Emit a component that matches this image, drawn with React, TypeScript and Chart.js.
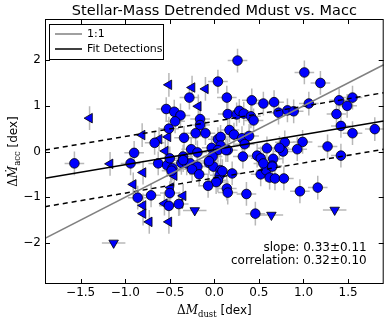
import React, { useEffect, useRef } from "react";
import { Chart, registerables } from "chart.js";
Chart.register(...registerables);

// Detections (blue circles)
const detX = [0.26, 1.01, 1.19, 0.04, -0.28, 0.14, -0.54, -0.45, -0.38, -0.44, -0.16, -0.16, -0.51, -0.34, -0.21, -0.1, -0.67, -0.9, 0.15, 0.25, 0.28, 0.33, 0.42, 0.55, 0.67, 0.41, 0.44, 0.72, 0.82, 0.89, 1.06, 1.4, 1.55, 1.49, 1.37, 1.42, 1.55, 1.8, 0.17, 0.22, 0.31, 0.39, 0.04, 0.07, 0.34, -0.03, 0.07, 0.04, 0.15, -0.26, -0.19, 0.79, 0.99, 0.77, 0.93, 0.73, 0.59, 1.27, 0.48, 0.52, 0.66, 1.42, 0.32, -0.02, -0.35, -1.57, -0.94, -0.63, -0.53, -0.47, -0.48, -0.37, -0.31, -0.27, -0.19, -0.25, -0.17, -0.06, -0.01, 0.07, 0.06, 0.04, 0.02, -0.07, 0.14, 0.15, 0.2, 0.36, 0.52, 0.58, 0.62, 0.65, 0.68, 0.78, 0.55, 0.65, 0.96, 1.16, 0.46, -0.86, -0.71, -0.5, -0.51, -0.4, -0.5, -0.35, -0.06, 0.09, 0.13];
const detY = [1.99, 1.73, 1.5, 1.53, 1.18, 1.18, 0.93, 0.87, 0.79, 0.66, 0.71, 0.58, 0.5, 0.3, 0.4, 0.4, 0.19, -0.03, 0.82, 0.81, 0.89, 0.83, 1.12, 1.05, 1.08, 0.77, 0.68, 0.85, 0.9, 0.88, 1.05, 1.12, 1.18, 1.0, 0.82, 0.56, 0.4, 0.49, 0.47, 0.37, 0.29, 0.34, 0.27, 0.32, 0.16, 0.08, 0.13, 0.03, 0.03, 0.05, -0.02, 0.2, 0.21, 0.0, 0.05, 0.08, 0.07, 0.11, -0.09, -0.15, -0.16, -0.09, -0.11, -0.11, -0.11, -0.26, -0.26, -0.26, -0.3, -0.37, -0.42, -0.25, -0.26, -0.26, -0.33, -0.39, -0.5, -0.25, -0.33, -0.41, -0.52, -0.63, -0.67, -0.75, -0.81, -0.9, -0.48, -0.93, -0.5, -0.41, -0.57, -0.31, -0.59, -0.59, -0.26, -0.33, -0.87, -0.79, -1.36, -1.01, -0.96, -0.91, -1.19, -1.15, -0.15, -0.19, -0.21, -0.43, 0.03];
// Upper limits in dust (left-pointing triangles)
const limDustX = [-1.4, -0.81, -0.51, -0.25, -0.1, -0.18, -0.52, -0.62, -0.55, -1.17, -0.8, -0.91, -0.35, -0.8, -0.8, -0.73, -0.56, -0.51, -0.39, -0.45, -0.49];
const limDustY = [0.73, 0.36, 1.46, 1.4, 1.37, 0.99, 0.32, 0.27, 0.01, -0.27, -0.46, -0.72, -0.97, -1.18, -1.36, -1.54, -1.14, -1.54, -1.14, -0.53, -0.79];
// Upper limits in accretion (down-pointing triangles)
const limAccX = [-1.13, -0.22, 0.64, 1.35];
const limAccY = [-2.0, -1.29, -1.39, -1.28];

const xErr = 0.11;
const yErr = 0.26;

const xTicks = [-1.5, -1.0, -0.5, 0.0, 0.5, 1.0, 1.5];
const xTickLabels = ["\u22121.5", "\u22121.0", "\u22120.5", "0.0", "0.5", "1.0", "1.5"];
const yTicks = [-2, -1, 0, 1, 2];
const yTickLabels = ["\u22122", "\u22121", "0", "1", "2"];

const xRange = [-1.9, 1.9];
const yRange = [-2.9, 2.9];

const fitSlope = 0.33;
const fitIntercept = 0.04;
const bandOffset = 0.62;

const titleText = "Stellar-Mass Detrended Mdust vs. Macc";
const statLines = ["slope: 0.33\u00b10.11", "correlation: 0.32\u00b10.10"];
const legendLabels = ["1:1", "Fit Detections"];

const SANS = "'DejaVu Sans', sans-serif";
const SERIF = "'DejaVu Serif', serif";

function linePts(slope: number, icpt: number) {
  return xRange.map((x) => ({ x, y: slope * x + icpt }));
}

const decorPlugin = {
  id: "decor",
  beforeDatasetsDraw(chart: any) {
    const ctx = chart.ctx;
    const xs = chart.scales.x, ys = chart.scales.y;
    const a = chart.chartArea;
    ctx.save();
    ctx.beginPath();
    ctx.rect(a.left, a.top, a.right - a.left, a.bottom - a.top);
    ctx.clip();
    ctx.strokeStyle = "#b8b8b8";
    ctx.lineWidth = 1.5;
    const seg = (x1: number, y1: number, x2: number, y2: number) => {
      ctx.beginPath();
      ctx.moveTo(xs.getPixelForValue(x1), ys.getPixelForValue(y1));
      ctx.lineTo(xs.getPixelForValue(x2), ys.getPixelForValue(y2));
      ctx.stroke();
    };
    detX.forEach((x, i) => {
      const y = detY[i];
      seg(x - xErr, y, x + xErr, y);
      seg(x, y - yErr, x, y + yErr);
    });
    limDustX.forEach((x, i) => {
      const y = limDustY[i];
      seg(x, y - yErr, x, y + yErr);
    });
    limAccX.forEach((x, i) => {
      const y = limAccY[i];
      seg(x - xErr * 1.2, y, x + xErr * 1.2, y);
    });
    ctx.restore();
  },
  afterDraw(chart: any) {
    const ctx = chart.ctx;
    const xs = chart.scales.x, ys = chart.scales.y;
    const a = chart.chartArea;
    ctx.save();
    // frame
    ctx.strokeStyle = "#000";
    ctx.lineWidth = 1;
    ctx.strokeRect(a.left + 0.5, a.top + 0.5, a.right - a.left - 1, a.bottom - a.top - 1);
    // ticks
    const tl = 5;
    ctx.beginPath();
    xTicks.forEach((t) => {
      const px = Math.round(xs.getPixelForValue(t)) + 0.5;
      ctx.moveTo(px, a.bottom); ctx.lineTo(px, a.bottom - tl);
      ctx.moveTo(px, a.top); ctx.lineTo(px, a.top + tl);
    });
    yTicks.forEach((t) => {
      const py = Math.round(ys.getPixelForValue(t)) + 0.5;
      ctx.moveTo(a.left, py); ctx.lineTo(a.left + tl, py);
      ctx.moveTo(a.right, py); ctx.lineTo(a.right - tl, py);
    });
    ctx.stroke();
    // tick labels
    ctx.fillStyle = "#000";
    ctx.font = `12px ${SANS}`;
    ctx.textAlign = "center";
    ctx.textBaseline = "top";
    xTicks.forEach((t, i) => ctx.fillText(xTickLabels[i], xs.getPixelForValue(t), a.bottom + 3));
    ctx.textAlign = "right";
    ctx.textBaseline = "middle";
    yTicks.forEach((t, i) => ctx.fillText(yTickLabels[i], a.left - 4, ys.getPixelForValue(t)));
    // title
    ctx.font = `14.5px ${SANS}`;
    ctx.textAlign = "center";
    ctx.textBaseline = "alphabetic";
    ctx.fillText(titleText, (a.left + a.right) / 2, a.top - 4);
    // math labels
    const drawMathLabel = (cx: number, cy: number, sym: string, sub: string) => {
      const parts = [
        { t: "\u0394", f: `12px ${SERIF}`, dy: 0 },
        { t: sym, f: `italic 12px ${SERIF}`, dy: 0 },
        { t: sub, f: `8.5px ${SERIF}`, dy: 3 },
        { t: " [dex]", f: `12px ${SANS}`, dy: 0 },
      ];
      let w = 0;
      parts.forEach((p) => { ctx.font = p.f; w += ctx.measureText(p.t).width; });
      let x = cx - w / 2;
      ctx.textAlign = "left";
      ctx.textBaseline = "alphabetic";
      parts.forEach((p) => { ctx.font = p.f; ctx.fillText(p.t, x, cy + p.dy); x += ctx.measureText(p.t).width; });
    };
    drawMathLabel((a.left + a.right) / 2, 314, "M", "dust");
    ctx.save();
    ctx.translate(17, (a.top + a.bottom) / 2);
    ctx.rotate(-Math.PI / 2);
    drawMathLabel(0, 0, "\u1E40", "acc");
    ctx.restore();
    // legend
    const lx = a.left + 4, ly = a.top + 5, lw = 114, lh = 35;
    ctx.fillStyle = "#fff";
    ctx.fillRect(lx, ly, lw, lh);
    ctx.strokeStyle = "#000";
    ctx.lineWidth = 1;
    ctx.strokeRect(lx + 0.5, ly + 0.5, lw, lh);
    const rowY = [ly + 10, ly + 25];
    const cols = ["#808080", "#000000"];
    rowY.forEach((ry, i) => {
      ctx.strokeStyle = cols[i];
      ctx.lineWidth = 1.5;
      ctx.beginPath();
      ctx.moveTo(lx + 6, ry); ctx.lineTo(lx + 33, ry);
      ctx.stroke();
      ctx.fillStyle = "#000";
      ctx.font = `11px ${SANS}`;
      ctx.textAlign = "left";
      ctx.textBaseline = "middle";
      ctx.fillText(legendLabels[i], lx + 38, ry);
    });
    // stats text
    ctx.font = `12px ${SANS}`;
    ctx.textAlign = "right";
    ctx.textBaseline = "middle";
    ctx.fillText(statLines[0], a.right - 17, 248);
    ctx.fillText(statLines[1], a.right - 17, 261);
    ctx.restore();
  },
};

export default function App() {
  const ref = useRef<HTMLCanvasElement | null>(null);
  useEffect(() => {
    document.body.style.margin = "0";
    const canvas = ref.current!;
    const toPts = (xa: number[], ya: number[]) => xa.map((x, i) => ({ x, y: ya[i] }));
    const chart = new Chart(canvas, {
      type: "scatter",
      data: {
        datasets: [
          { data: linePts(1, 0), showLine: true, borderColor: "#808080", borderWidth: 1.5, pointRadius: 0 },
          { data: linePts(fitSlope, fitIntercept), showLine: true, borderColor: "#000", borderWidth: 1.5, pointRadius: 0 },
          { data: linePts(fitSlope, fitIntercept + bandOffset), showLine: true, borderColor: "#000", borderWidth: 1.5, borderDash: [5, 4], pointRadius: 0 },
          { data: linePts(fitSlope, fitIntercept - bandOffset), showLine: true, borderColor: "#000", borderWidth: 1.5, borderDash: [5, 4], pointRadius: 0 },
          { data: toPts(detX, detY), pointStyle: "circle", pointRadius: 4.8, backgroundColor: "#0000ff", borderColor: "#000", borderWidth: 0.8 },
          { data: toPts(limDustX, limDustY), pointStyle: "triangle", rotation: 270, pointRadius: 5.5, backgroundColor: "#0000ff", borderColor: "#000", borderWidth: 0.8 },
          { data: toPts(limAccX, limAccY), pointStyle: "triangle", rotation: 180, pointRadius: 5.5, backgroundColor: "#0000ff", borderColor: "#000", borderWidth: 0.8 },
        ],
      },
      options: {
        responsive: false,
        animation: false,
        events: [],
        layout: { padding: { left: 45, right: 6, top: 19, bottom: 37 } },
        plugins: { legend: { display: false }, tooltip: { enabled: false } },
        scales: {
          x: { type: "linear", min: xRange[0], max: xRange[1], display: false },
          y: { type: "linear", min: yRange[0], max: yRange[1], display: false },
        },
      },
      plugins: [decorPlugin],
    });
    return () => chart.destroy();
  }, []);
  return <canvas ref={ref} width={390} height={321} style={{ display: "block", width: 390, height: 321 }} />;
}
